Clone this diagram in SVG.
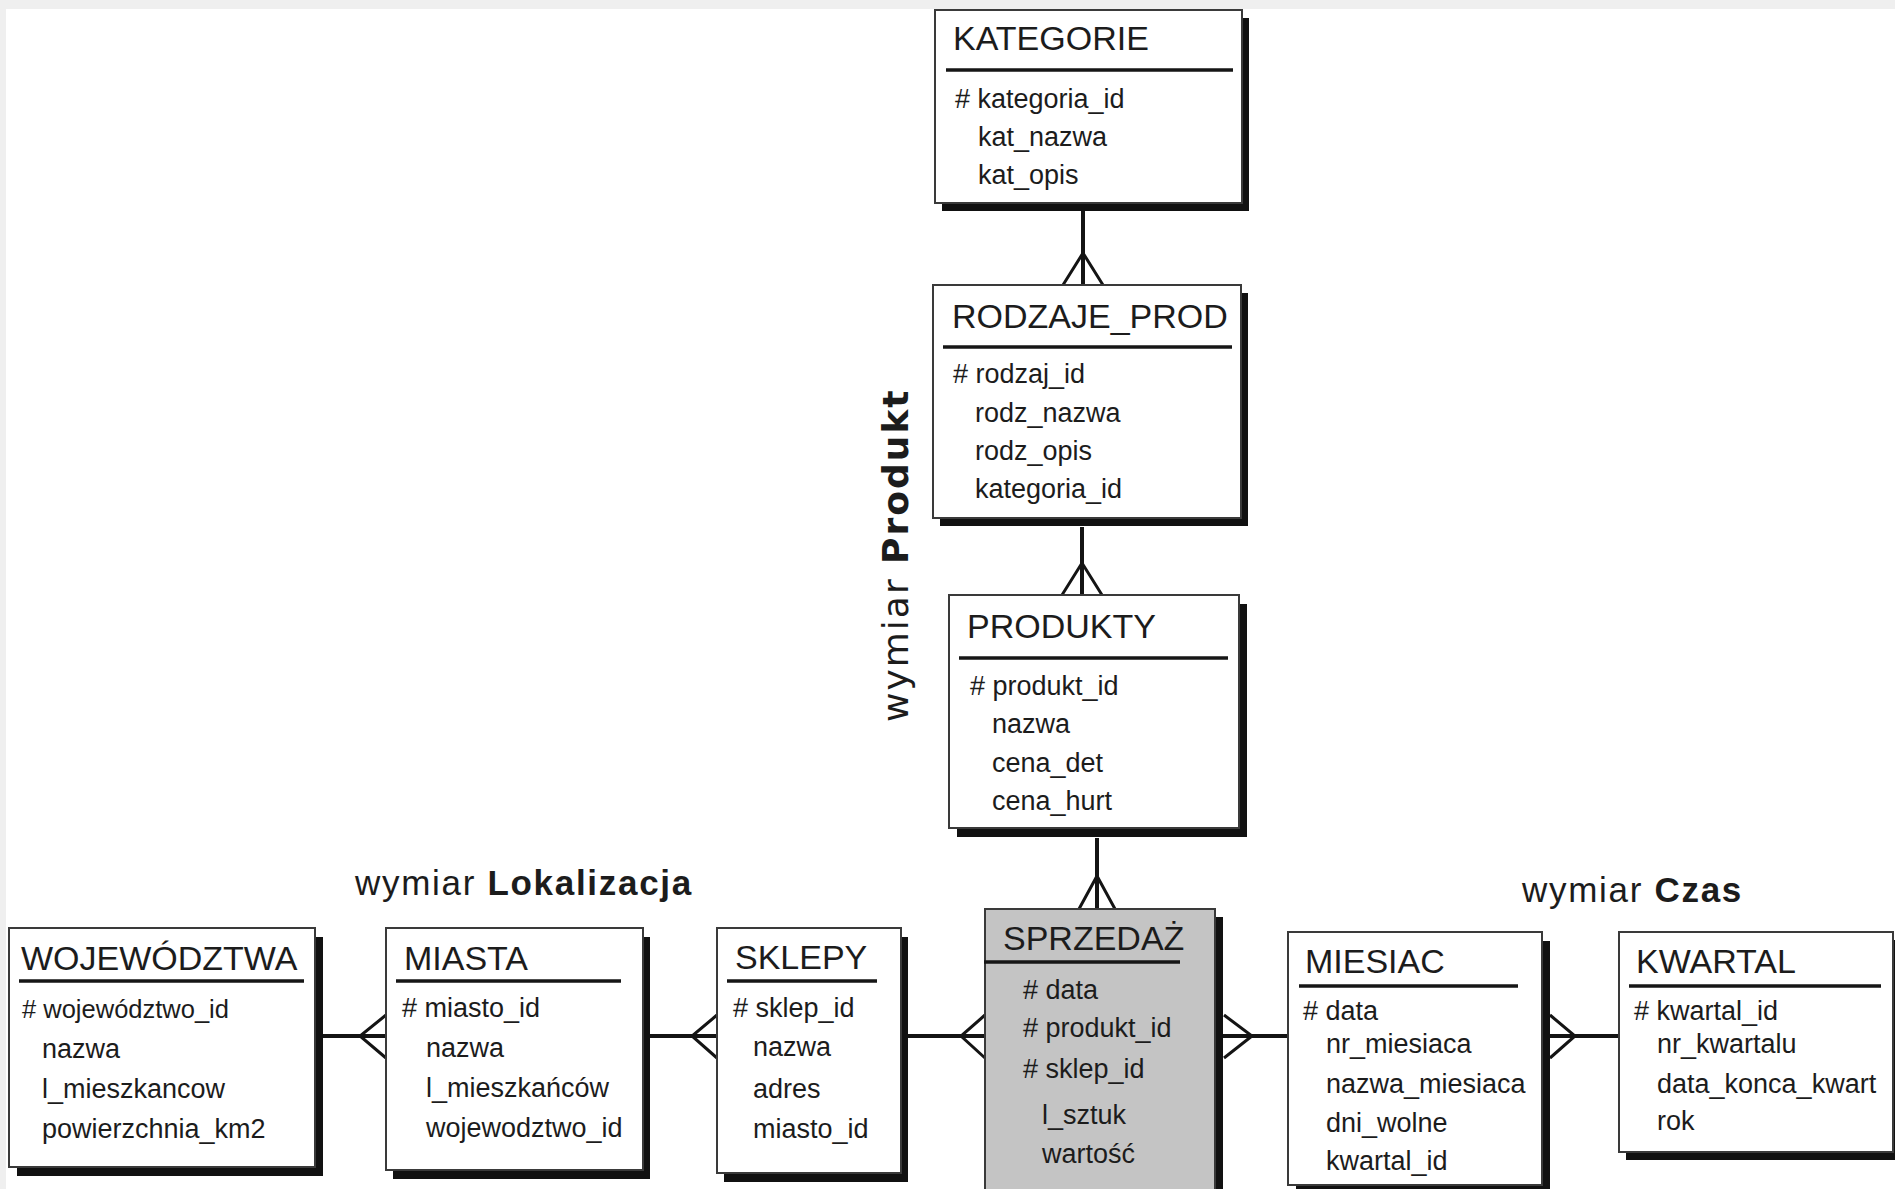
<svg xmlns="http://www.w3.org/2000/svg" width="1895" height="1189" viewBox="0 0 1895 1189">
  <style>
    .shadow { fill: #111; }
    .box { fill: #fff; stroke: #3a3a3a; stroke-width: 2; }
    .fact { fill: #c4c4c4; }
    .hdr { stroke: #161616; stroke-width: 3.5; }
    text { font-family: "Liberation Sans", Arial, sans-serif; fill: #1c1c1c; }
    .title { font-size: 34px; }
    .attr { font-size: 27px; }
    .dim { font-size: 35px; letter-spacing: 1.7px; }
    .dim tspan.b { font-weight: bold; }
    .conn { stroke: #141414; stroke-width: 4; fill: none; }
    .foot { stroke: #141414; stroke-width: 3; fill: none; stroke-linejoin: miter; }
  </style>

  <!-- page background with light frame on top/left -->
  <rect x="0" y="0" width="1895" height="1189" fill="#efefef"/>
  <rect x="6" y="9" width="1889" height="1180" fill="#fff"/>

  <!-- dimension labels -->
  <text class="dim" x="355" y="895">wymiar <tspan class="b">Lokalizacja</tspan></text>
  <text class="dim" x="1522" y="902">wymiar <tspan class="b">Czas</tspan></text>
  <text transform="translate(908,722) rotate(-90)" style="font-family: 'DejaVu Sans', Verdana, sans-serif; font-size: 36px; letter-spacing: 2px;">wymiar <tspan font-weight="bold">Produkt</tspan></text>

  <!-- relationships (crow's foot on the "many" side) -->
  <g id="connectors">
    <path class="conn" d="M1083 211 V285"/>
    <path class="foot" d="M1063 285 L1083 253 L1103 285"/>
    <path class="conn" d="M1082 527 V595"/>
    <path class="foot" d="M1062 595 L1082 563 L1102 595"/>
    <path class="conn" d="M1097 838 V909"/>
    <path class="foot" d="M1079 909 L1097 876 L1115 909"/>
    <path class="conn" d="M323 1036 H386"/>
    <path class="foot" d="M386 1015 L360 1036 L386 1058"/>
    <path class="conn" d="M650 1036 H717"/>
    <path class="foot" d="M717 1015 L692 1036 L717 1058"/>
    <path class="conn" d="M908 1036 H985"/>
    <path class="foot" d="M985 1015 L961 1036 L985 1058"/>
    <path class="conn" d="M1223 1036 H1288"/>
    <path class="foot" d="M1224 1015 L1252 1036 L1224 1058"/>
    <path class="conn" d="M1550 1036 H1619"/>
    <path class="foot" d="M1550 1015 L1575 1036 L1550 1058"/>
  </g>

  <g id="kategorie">
    <rect class="shadow" x="942" y="18" width="307" height="193"/>
    <rect class="box" x="935" y="10" width="307" height="193"/>
    <text class="title" x="953" y="50">KATEGORIE</text>
    <line class="hdr" x1="946" y1="70" x2="1233" y2="70"/>
    <text class="attr" x="955" y="108"># kategoria_id</text>
    <text class="attr" x="978" y="146">kat_nazwa</text>
    <text class="attr" x="978" y="184">kat_opis</text>
  </g>

  <g id="rodzaje_prod">
    <rect class="shadow" x="940" y="293" width="308" height="233"/>
    <rect class="box" x="933" y="285" width="308" height="233"/>
    <text class="title" x="952" y="328">RODZAJE_PROD</text>
    <line class="hdr" x1="943" y1="347" x2="1232" y2="347"/>
    <text class="attr" x="953" y="383"># rodzaj_id</text>
    <text class="attr" x="975" y="422">rodz_nazwa</text>
    <text class="attr" x="975" y="460">rodz_opis</text>
    <text class="attr" x="975" y="498">kategoria_id</text>
  </g>

  <g id="produkty">
    <rect class="shadow" x="957" y="604" width="290" height="233"/>
    <rect class="box" x="949" y="595" width="290" height="233"/>
    <text class="title" x="967" y="638">PRODUKTY</text>
    <line class="hdr" x1="959" y1="658" x2="1228" y2="658"/>
    <text class="attr" x="970" y="695"># produkt_id</text>
    <text class="attr" x="992" y="733">nazwa</text>
    <text class="attr" x="992" y="772">cena_det</text>
    <text class="attr" x="992" y="810">cena_hurt</text>
  </g>

  <g id="sprzedaz">
    <rect class="shadow" x="993" y="917" width="230" height="300"/>
    <rect class="box fact" x="985" y="909" width="230" height="300"/>
    <text class="title" x="1003" y="950">SPRZEDAŻ</text>
    <line class="hdr" x1="984" y1="962" x2="1180" y2="962"/>
    <text class="attr" x="1023" y="999"># data</text>
    <text class="attr" x="1023" y="1037"># produkt_id</text>
    <text class="attr" x="1023" y="1078"># sklep_id</text>
    <text class="attr" x="1042" y="1124">l_sztuk</text>
    <text class="attr" x="1042" y="1163">wartość</text>
  </g>

  <g id="sklepy">
    <rect class="shadow" x="724" y="937" width="184" height="245"/>
    <rect class="box" x="717" y="928" width="184" height="245"/>
    <text class="title" x="735" y="969">SKLEPY</text>
    <line class="hdr" x1="727" y1="981" x2="877" y2="981"/>
    <text class="attr" x="733" y="1017"># sklep_id</text>
    <text class="attr" x="753" y="1056">nazwa</text>
    <text class="attr" x="753" y="1098">adres</text>
    <text class="attr" x="753" y="1138">miasto_id</text>
  </g>

  <g id="miasta">
    <rect class="shadow" x="393" y="937" width="257" height="242"/>
    <rect class="box" x="386" y="928" width="257" height="242"/>
    <text class="title" x="404" y="970">MIASTA</text>
    <line class="hdr" x1="396" y1="981" x2="621" y2="981"/>
    <text class="attr" x="402" y="1017"># miasto_id</text>
    <text class="attr" x="426" y="1057">nazwa</text>
    <text class="attr" x="426" y="1097">l_mieszkańców</text>
    <text class="attr" x="426" y="1137">wojewodztwo_id</text>
  </g>

  <g id="wojewodztwa">
    <rect class="shadow" x="17" y="937" width="306" height="239"/>
    <rect class="box" x="9" y="928" width="306" height="239"/>
    <text class="title" x="21" y="970">WOJEWÓDZTWA</text>
    <line class="hdr" x1="19" y1="981" x2="304" y2="981"/>
    <text class="attr" x="22" y="1018" style="font-size:25.5px"># województwo_id</text>
    <text class="attr" x="42" y="1058">nazwa</text>
    <text class="attr" x="42" y="1098">l_mieszkancow</text>
    <text class="attr" x="42" y="1138">powierzchnia_km2</text>
  </g>

  <g id="miesiac">
    <rect class="shadow" x="1296" y="941" width="254" height="253"/>
    <rect class="box" x="1288" y="932" width="254" height="253"/>
    <text class="title" x="1305" y="973">MIESIAC</text>
    <line class="hdr" x1="1299" y1="986" x2="1518" y2="986"/>
    <text class="attr" x="1303" y="1020"># data</text>
    <text class="attr" x="1326" y="1053">nr_miesiaca</text>
    <text class="attr" x="1326" y="1093">nazwa_miesiaca</text>
    <text class="attr" x="1326" y="1132">dni_wolne</text>
    <text class="attr" x="1326" y="1170">kwartal_id</text>
  </g>

  <g id="kwartal">
    <rect class="shadow" x="1626" y="940" width="274" height="220"/>
    <rect class="box" x="1619" y="932" width="274" height="220"/>
    <text class="title" x="1636" y="973">KWARTAL</text>
    <line class="hdr" x1="1629" y1="986" x2="1881" y2="986"/>
    <text class="attr" x="1634" y="1020"># kwartal_id</text>
    <text class="attr" x="1657" y="1053">nr_kwartalu</text>
    <text class="attr" x="1657" y="1093">data_konca_kwart</text>
    <text class="attr" x="1657" y="1130">rok</text>
  </g>
</svg>
